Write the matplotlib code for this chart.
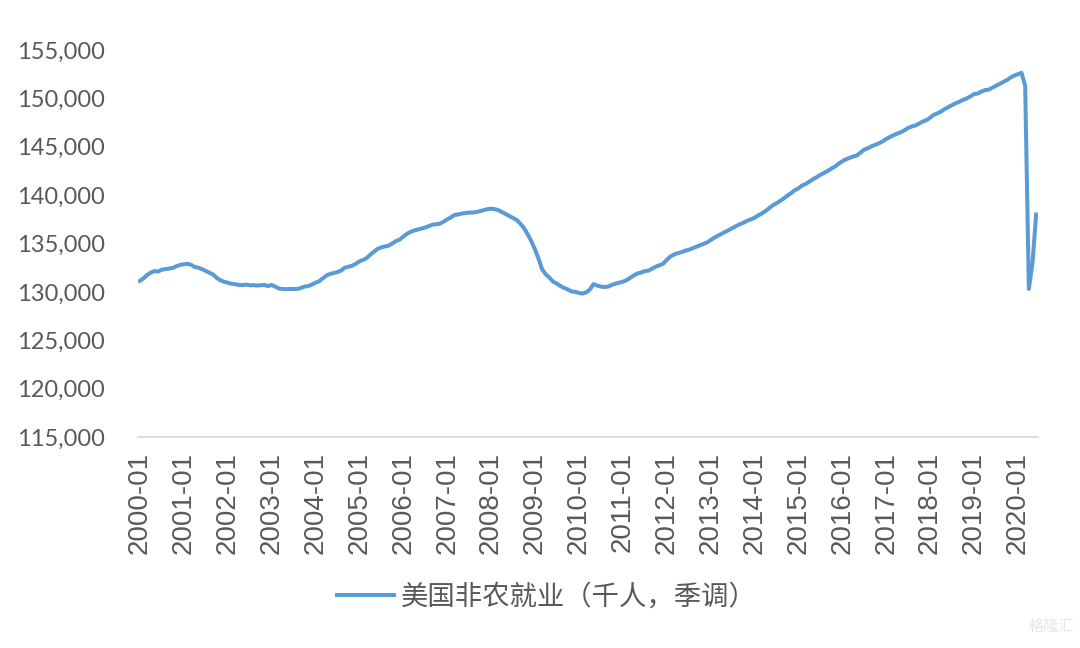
import matplotlib
matplotlib.use('Agg')
import matplotlib.pyplot as plt
from matplotlib.ticker import FuncFormatter

# 美国非农就业（千人，季调），2000-01 至 2020-06，按月
y2000 = [131140, 131400, 131750, 132000, 132150, 132100, 132300, 132350, 132420, 132480, 132650, 132790]
y2001 = [132850, 132900, 132800, 132580, 132500, 132350, 132170, 132000, 131800, 131450, 131200, 131050]
y2002 = [130950, 130850, 130800, 130720, 130700, 130750, 130680, 130700, 130650, 130680, 130720, 130600]
y2003 = [130720, 130550, 130350, 130300, 130280, 130300, 130290, 130300, 130400, 130550, 130600, 130750]
y2004 = [130950, 131100, 131400, 131700, 131850, 131950, 132050, 132200, 132500, 132600, 132700, 132900]
y2005 = [133150, 133300, 133500, 133850, 134150, 134450, 134600, 134700, 134780, 135000, 135250, 135400]
y2006 = [135700, 136000, 136200, 136350, 136450, 136550, 136650, 136800, 136950, 137000, 137050, 137250]
y2007 = [137500, 137700, 137950, 138000, 138100, 138150, 138200, 138200, 138250, 138350, 138450, 138550]
y2008 = [138600, 138550, 138450, 138250, 138050, 137850, 137650, 137440, 137050, 136600, 135950, 135250]
y2009 = [134400, 133400, 132300, 131800, 131450, 131050, 130850, 130600, 130400, 130250, 130050, 130000]
y2010 = [129900, 129820, 129950, 130250, 130800, 130650, 130550, 130500, 130550, 130720, 130850, 130950]
y2011 = [131050, 131200, 131450, 131700, 131900, 132000, 132150, 132200, 132400, 132600, 132750, 132900]
y2012 = [133300, 133650, 133850, 134000, 134100, 134250, 134350, 134500, 134650, 134800, 134950, 135100]
y2013 = [135350, 135600, 135800, 136000, 136200, 136400, 136600, 136800, 137000, 137150, 137350, 137500]
y2014 = [137650, 137900, 138100, 138350, 138650, 138950, 139150, 139400, 139650, 139950, 140200, 140500]
y2015 = [140700, 141000, 141150, 141400, 141650, 141850, 142100, 142300, 142500, 142750, 142950, 143250]
y2016 = [143500, 143700, 143850, 144000, 144100, 144400, 144700, 144850, 145050, 145200, 145350, 145550]
y2017 = [145800, 146000, 146200, 146350, 146500, 146700, 146950, 147100, 147200, 147400, 147600, 147750]
y2018 = [148000, 148300, 148450, 148650, 148900, 149100, 149300, 149500, 149650, 149850, 150000, 150200]
y2019 = [150450, 150500, 150700, 150850, 150900, 151100, 151300, 151500, 151700, 151900, 152150, 152350]
y2020 = [152500, 152650, 151300, 130300, 133000, 138000]

years = list(range(2000, 2021))
payrolls = (y2000 + y2001 + y2002 + y2003 + y2004 + y2005 + y2006 + y2007 + y2008 + y2009 +
            y2010 + y2011 + y2012 + y2013 + y2014 + y2015 + y2016 + y2017 + y2018 + y2019 + y2020)
tick_labels = [f'{y}-01' for y in years]
label = '美国非农就业（千人，季调）'

fig = plt.figure(figsize=(10.8, 6.48), dpi=100)
ax = fig.add_axes([0.1278, 0.3256, 0.8333, 0.5972])

x = list(range(len(payrolls)))
ax.plot(x, payrolls, color='#5B9BD5', lw=2.9, solid_joinstyle='round', label=label)

ax.set_xlim(-0.5, len(payrolls) - 0.5)
ax.set_ylim(115000, 155000)
ax.set_yticks(range(115000, 155001, 5000))
ax.yaxis.set_major_formatter(FuncFormatter(lambda v, p: f'{int(v):,}'))
ax.set_xticks([i * 12 for i in range(len(years))])
ax.set_xticklabels(tick_labels, rotation=90,
                   family=['Liberation Sans Narrow', 'Liberation Sans'], fontsize=20)

for s in ['top', 'right', 'left']:
    ax.spines[s].set_visible(False)
ax.spines['bottom'].set_color('#D9D9D9')
ax.spines['bottom'].set_linewidth(1.3)
ax.tick_params(axis='y', length=0, pad=24, labelsize=17, labelcolor='#595959')
ax.tick_params(axis='x', length=0, pad=11, labelcolor='#595959')
for t in ax.get_yticklabels():
    t.set_family(['Lato', 'DejaVu Sans'])

leg = fig.legend(loc='center', bbox_to_anchor=(0.5065, 0.079), frameon=False,
                 handlelength=2.1, handletextpad=0.25,
                 prop={'family': ['Noto Sans CJK SC', 'DejaVu Sans'], 'size': 19.7})
for t in leg.get_texts():
    t.set_color('#595959')

# 水印
fig.text(0.995, 0.02, '格隆汇', ha='right', va='bottom', fontsize=11, color='#E6E6E6',
         family=['Noto Sans CJK SC', 'DejaVu Sans'])

fig.savefig('out.png', dpi=100)
